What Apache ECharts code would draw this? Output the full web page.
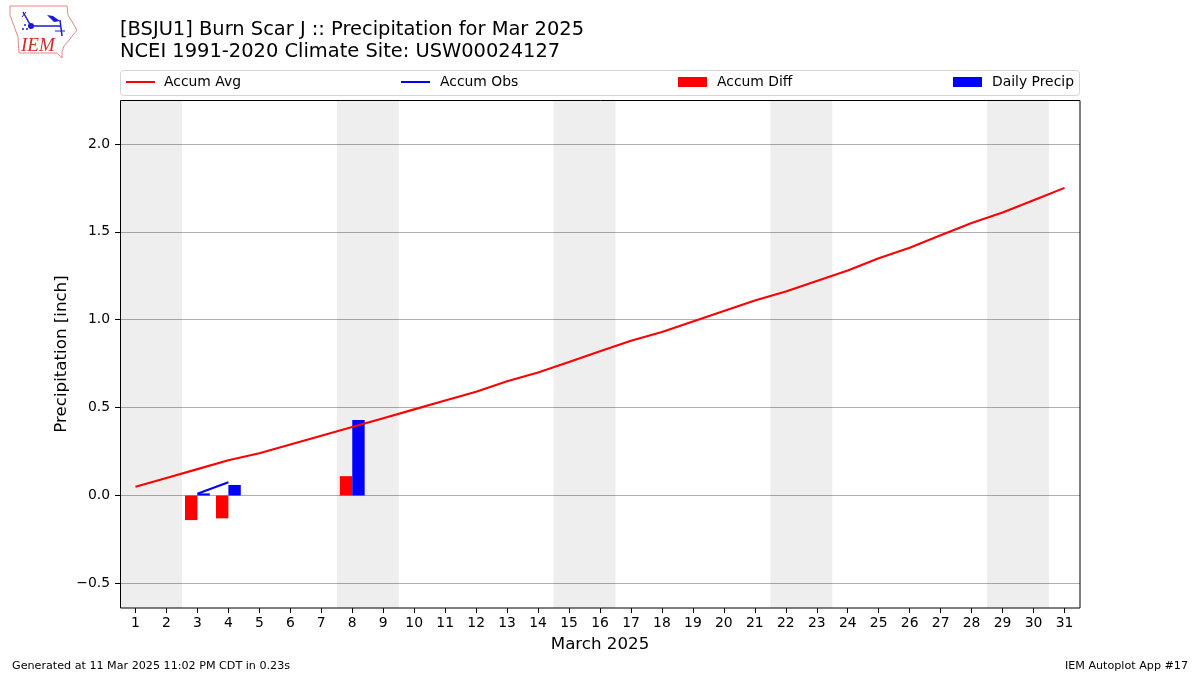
<!DOCTYPE html>
<html>
<head>
<meta charset="utf-8">
<title>Precipitation for Mar 2025</title>
<script src="https://cdn.jsdelivr.net/npm/echarts@6/dist/echarts.min.js"></script>
<style>
  html, body { margin: 0; padding: 0; background: #fff; }
  #chart { width: 1200px; height: 675px; }
</style>
</head>
<body>
<div id="chart"></div>
<script>
const days = [1,2,3,4,5,6,7,8,9,10,11,12,13,14,15,16,17,18,19,20,21,22,23,24,25,26,27,28,29,30,31];
const accumAvg = [0.05,0.10,0.15,0.20,0.24,0.29,0.34,0.39,0.44,0.49,0.54,0.59,0.65,0.70,0.76,0.82,0.88,0.93,0.99,1.05,1.11,1.16,1.22,1.28,1.35,1.41,1.48,1.55,1.61,1.68,1.75];
const obsDays = [3, 4];
const accumObs = [0.01, 0.075];
const diffDays = [3, 4, 8];
const accumDiff = [-0.14, -0.13, 0.11];
const precipDays = [3, 4, 8];
const dailyPrecip = [0.012, 0.06, 0.43];
const yTicks = [-0.5, 0, 0.5, 1, 1.5, 2];
const weekends = [[0.5, 2.5], [7.5, 9.5], [14.5, 16.5], [21.5, 23.5], [28.5, 30.5]];

const FONT = "DejaVu Sans";
const pairs = (xs, ys) => xs.map((x, i) => [x, ys[i]]);

// state outline + station plot for the logo, top left
const BLUE = "#1a1ad0";
const logo = [
  { type: "polygon", shape: { points: [[10,6],[67,6],[68,15],[77,30],[70,39],[64,46],[62,52],[62,58],[57,53],[19,53],[18,37],[10,15]] },
    style: { fill: "#fff", stroke: "#e08a8a", lineWidth: 1 } },
  { type: "polyline", shape: { points: [[23,12],[31,26],[60,26]] }, style: { fill: "none", stroke: BLUE, lineWidth: 1.5 } },
  { type: "polyline", shape: { points: [[26,12],[22,17]] }, style: { fill: "none", stroke: BLUE, lineWidth: 1 } },
  { type: "polyline", shape: { points: [[60,20],[62,36]] }, style: { fill: "none", stroke: BLUE, lineWidth: 1.5 } },
  { type: "polyline", shape: { points: [[55,31],[65,31]] }, style: { fill: "none", stroke: BLUE, lineWidth: 1 } },
  { type: "polygon", shape: { points: [[47,15],[53,16],[60,21],[54,22]] }, style: { fill: BLUE } },
  { type: "circle", shape: { cx: 31, cy: 26, r: 3 }, style: { fill: BLUE } },
  { type: "circle", shape: { cx: 25, cy: 25, r: 1 }, style: { fill: BLUE } },
  { type: "circle", shape: { cx: 23, cy: 29, r: 1 }, style: { fill: BLUE } },
  { type: "circle", shape: { cx: 27, cy: 29, r: 1 }, style: { fill: BLUE } },
  { type: "text", x: 21, y: 36, style: { text: "IEM", font: "italic 19px 'Liberation Serif'", fill: "#d42a2a" } }
];

// legend frame and axes box, the legend entries themselves are ECharts legends
const frames = [
  { type: "rect", z: -1, shape: { x: 120.5, y: 70.5, width: 959, height: 25, r: 3 },
    style: { fill: "#fff", stroke: "#d5d5d5", lineWidth: 1 } },
  { type: "rect", z: 10, silent: true, shape: { x: 120.5, y: 100.5, width: 959.5, height: 507.5 },
    style: { fill: "none", stroke: "#000", lineWidth: 1 } }
];

const footer = [
  { type: "text", x: 12, y: 661, style: { text: "Generated at 11 Mar 2025 11:02 PM CDT in 0.23s", font: "11.15px '" + FONT + "'", fill: "#000" } },
  { type: "text", right: 12, y: 661, style: { text: "IEM Autoplot App #17", font: "11.15px '" + FONT + "'", fill: "#000" } }
];

function legendAt(left, name, isLine, pad) {
  return {
    left: left, top: 75, padding: 0,
    itemWidth: 29, itemHeight: 10,
    textStyle: { fontSize: 13.9, color: "#000", fontFamily: FONT, padding: [0, 0, 0, pad] },
    data: [isLine ? { name: name, itemStyle: { opacity: 0 } } : { name: name, icon: "rect" }]
  };
}

const chart = echarts.init(document.getElementById("chart"), null, { renderer: "canvas" });
chart.setOption({
  animation: false,
  backgroundColor: "#fff",
  textStyle: { fontFamily: FONT },
  title: {
    text: "[BSJU1] Burn Scar J :: Precipitation for Mar 2025\nNCEI 1991-2020 Climate Site: USW00024127",
    left: 120, top: 18.5, padding: 0,
    textStyle: { fontSize: 19.45, fontWeight: "normal", color: "#000", lineHeight: 22.5, fontFamily: FONT }
  },
  legend: [
    legendAt(125, "Accum Avg", true, 4),
    legendAt(400, "Accum Obs", true, 5),
    legendAt(678, "Accum Diff", false, 5),
    legendAt(953, "Daily Precip", false, 5)
  ],
  grid: { left: 120, right: 120, top: 100, bottom: 67, show: true, backgroundColor: "#fff", borderWidth: 0 },
  xAxis: {
    type: "value", min: 0.5, max: 31.5,
    name: "March 2025", nameLocation: "middle", nameGap: 28,
    nameTextStyle: { fontSize: 16.67, color: "#000", fontFamily: FONT },
    axisLine: { show: false, onZero: false },
    axisTick: { show: true, length: 5, customValues: days, lineStyle: { color: "#000" } },
    axisLabel: { customValues: days, fontSize: 13.9, color: "#000", margin: 8, fontFamily: FONT },
    splitLine: { show: false }
  },
  yAxis: {
    type: "value", min: -0.64, max: 2.25,
    name: "Precipitation [inch]", nameLocation: "middle", nameGap: 50, nameRotate: 90, nameMoveOverlap: false,
    nameTextStyle: { fontSize: 16.67, color: "#000", fontFamily: FONT },
    axisLine: { show: false },
    axisTick: { show: true, length: 5, customValues: yTicks, lineStyle: { color: "#000" } },
    axisLabel: { customValues: yTicks, fontSize: 13.9, color: "#000", margin: 10, padding: [3, 0, 0, 0], fontFamily: FONT,
      formatter: v => (v < 0 ? "\u2212" : "") + Math.abs(v).toFixed(1) },
    splitLine: { show: true, customValues: yTicks, lineStyle: { color: "#b0b0b0", width: 1 } }
  },
  series: [
    {
      name: "Accum Avg", type: "line", data: pairs(days, accumAvg),
      showSymbol: false, symbol: "none", z: 4, lineStyle: { color: "#ff0000", width: 2.1 }, itemStyle: { color: "#ff0000" },
      markArea: {
        silent: true,
        itemStyle: { color: "rgba(0,0,0,0.067)" },
        data: weekends.map(w => [{ xAxis: w[0] }, { xAxis: w[1] }])
      }
    },
    {
      name: "Accum Obs", type: "line", data: pairs(obsDays, accumObs),
      showSymbol: false, symbol: "none", z: 4, lineStyle: { color: "#0000ff", width: 2.1 }, itemStyle: { color: "#0000ff" }
    },
    {
      name: "Accum Diff", type: "bar", data: pairs(diffDays, accumDiff),
      barWidth: 12.4, barGap: "0%", itemStyle: { color: "#ff0000" }, z: 3
    },
    {
      name: "Daily Precip", type: "bar", data: pairs(precipDays, dailyPrecip),
      barWidth: 12.4, barGap: "0%", itemStyle: { color: "#0000ff" }, z: 3
    }
  ],
  graphic: logo.concat(frames, footer)
});
</script>
</body>
</html>
